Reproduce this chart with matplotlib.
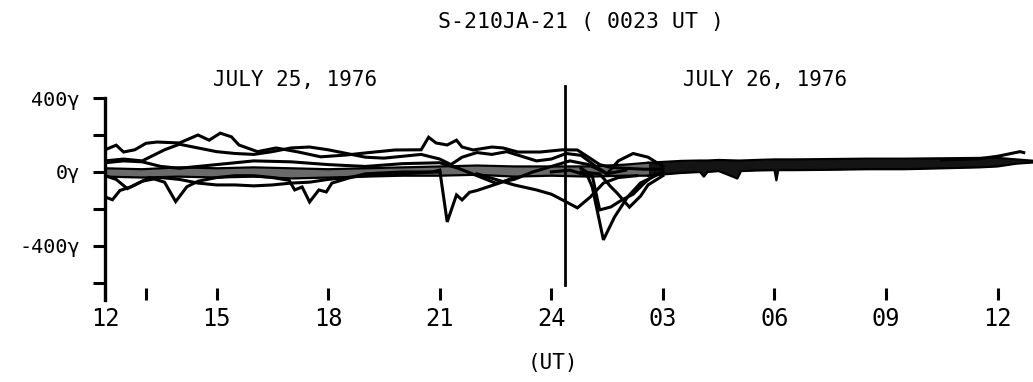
import matplotlib

matplotlib.use('Agg')
import matplotlib.pyplot as plt

# --- данные (часы UT от 12 UT 25 июля, гаммы) ---
h1 = [12.0, 12.3, 12.5, 12.8, 13.1, 13.4, 14.0, 14.5, 14.8, 15.1, 15.4, 15.6, 16.1, 16.6, 17.2, 17.8,
      18.5, 19.0, 19.8, 20.5, 20.7, 20.9, 21.2, 21.45, 21.6, 21.9, 22.4, 22.7, 23.1, 23.7, 24.3, 24.7,
      25.0, 25.3, 25.6, 26.0, 26.5, 27.0]
v1 = [120, 145, 108, 120, 155, 162, 157, 200, 172, 210, 190, 146, 110, 130, 108, 82,
      92, 103, 119, 120, 188, 157, 146, 172, 135, 119, 135, 130, 108, 108, 120, 119,
      80, 40, 25, 20, 15, 15]

h2 = [12.0, 12.5, 13.0, 13.3, 13.6, 14.0, 14.5, 15.0, 15.5, 16.0, 16.5, 17.0, 17.5, 18.0, 18.5, 19.0,
      19.5, 20.0, 20.5, 21.0, 21.3, 21.6, 22.0, 22.4, 22.8, 23.2, 23.6, 24.0, 24.4, 24.8, 25.2, 25.5,
      25.8, 26.2, 26.6, 27.0]
v2 = [60, 70, 60, 90, 120, 150, 130, 110, 100, 95, 110, 130, 135, 120, 100, 80,
      75, 85, 95, 70, 40, 80, 105, 95, 110, 85, 60, 70, 100, 90, 30, -10,
      60, 100, 80, 30]

h3 = [12.0, 12.5, 13.0, 13.5, 14.0, 14.5, 15.0, 16.0, 17.0, 18.0, 19.0, 20.0, 21.0, 21.5, 22.0, 22.5,
      23.0, 23.5, 24.0, 24.5, 25.0, 25.5, 26.0]
v3 = [50, 60, 55, 30, 20, 30, 40, 60, 55, 40, 30, 45, 50, 20, -20, -60,
      -40, 0, 30, 60, 40, -10, 10]

h4 = [12.0, 12.3, 12.6, 12.9, 13.2, 13.6, 13.9, 14.2, 14.5, 15.0, 15.5, 16.0, 16.5, 16.95, 17.1, 17.3,
      17.5, 17.75, 17.95, 18.1, 18.6, 19.0, 20.0, 21.0]
v4 = [-20, -40, -90, -60, -30, -55, -160, -80, -50, -30, -20, -20, -30, -45, -97, -81,
      -162, -97, -108, -60, -30, -10, 0, 0]

h5 = [12.0, 12.2, 12.4, 12.7, 13.0, 13.5, 14.0, 14.5, 15.0, 15.5, 16.0, 16.5, 17.0, 17.5, 18.0, 19.0,
      20.0, 20.8, 21.0, 21.2, 21.45, 21.6, 21.8, 22.0, 22.3, 22.6, 23.0]
v5 = [-135, -150, -100, -80, -50, -30, -40, -60, -70, -70, -75, -70, -60, -55, -40, -20,
      -10, 0, 10, -270, -124, -151, -110, -100, -80, -60, -30]

h6 = [22.0, 22.5, 23.0, 23.6, 24.0, 24.3, 24.7, 25.05, 25.4, 25.8, 26.3]
v6 = [-10, -40, -70, -97, -120, -151, -194, -135, -60, -30, -20]

h7 = [24.0, 24.5, 24.97, 25.1, 25.4, 25.7, 26.05, 26.4, 26.7, 27.0]
v7 = [0, 10, -20, -81, -367, -243, -135, -59, -30, 0]

h8 = [24.8, 25.1, 25.3, 25.6, 25.9, 26.2, 26.5, 26.8]
v8 = [20, -20, -205, -189, -151, -120, -60, -10]

h9 = [24.8, 25.3, 25.6, 25.75, 26.1, 26.4, 26.6, 27.0]
v9 = [0, -10, -80, -110, -190, -130, -70, -20]

h10 = [34.5, 35.0, 35.5, 36.0, 36.6, 36.7]
v10 = [65, 68, 72, 85, 110, 105]

traces = [(h1, v1), (h2, v2), (h3, v3), (h4, v4), (h5, v5),
          (h6, v6), (h7, v7), (h8, v8), (h9, v9), (h10, v10)]

# плотная полоса около нуля (25 июля)
band_h = [12.0, 13.0, 14.0, 15.0, 16.0, 17.0, 18.0, 19.0, 20.0, 21.0, 22.0, 23.0, 24.0, 25.0, 26.0, 26.6]
band_hi = [20, 15, 25, 20, 25, 20, 15, 20, 25, 30, 35, 30, 30, 30, 40, 50]
band_lo = [-25, -30, -25, -30, -25, -35, -30, -25, -20, -20, -15, -25, -20, -25, -20, -20]

# плотная полоса 26 июля
band2_h = [26.6, 27.5, 28.0, 28.1, 28.2, 28.5, 29.0, 29.1, 29.5, 30.0, 30.05, 30.1, 30.5, 31.5,
           32.5, 33.5, 34.5, 35.5, 36.0, 36.5, 37.0]
band2_hi = [50, 60, 62, 62, 62, 65, 62, 62, 65, 68, 68, 68, 68, 70,
            72, 72, 74, 76, 76, 68, 60]
band2_lo = [-20, -5, 0, -25, 0, 5, -35, 5, 8, 10, -45, 10, 10, 12,
            15, 15, 20, 25, 30, 45, 52]

event_h = 24.38  # 00:23 UT
x_ticks = [12, 15, 18, 21, 24, 27, 30, 33, 36]
x_labels = ['12', '15', '18', '21', '24', '03', '06', '09', '12']
y_ticks = [400, 200, 0, -200, -400, -600]
y_labels = ['400γ', '', '0γ', '', '-400γ', '']

plt.rcParams['font.family'] = ['DejaVu Sans Mono', 'DejaVu Sans']

fig = plt.figure(figsize=(10.33, 3.82), dpi=100)
ax = fig.add_axes([105 / 1033, 1 - 300 / 382, 928 / 1033, 202 / 382])

ax.fill_between(band_h, band_lo, band_hi, color='#6a6a6a', lw=0)
ax.plot(band_h, band_hi, color='black', lw=1.6)
ax.plot(band_h, band_lo, color='black', lw=1.6)
ax.fill_between(band2_h, band2_lo, band2_hi, color='#141414', lw=0)
ax.plot(band2_h, band2_hi, color='black', lw=1.6)
ax.plot(band2_h, band2_lo, color='black', lw=1.6)

for hh, vv in traces:
    ax.plot(hh, vv, color='black', lw=2.2, solid_joinstyle='miter')

# момент события
ax.plot([event_h, event_h], [465, -610], color='black', lw=2.0, clip_on=False)

ax.set_xlim(12, 36.95)
ax.set_ylim(-692, 400)

for s in ['top', 'right', 'bottom']:
    ax.spines[s].set_visible(False)
ax.spines['left'].set_linewidth(2.4)

ax.set_yticks(y_ticks)
ax.set_yticklabels(y_labels)
ax.tick_params(axis='y', direction='out', length=9, width=2.2, pad=9, labelsize=14.5)

ax.set_xticks(x_ticks)
ax.set_xticklabels(x_labels)
ax.set_xticks([13.1], minor=True)
ax.tick_params(axis='x', which='both', direction='in', length=9, width=2.2, pad=5, labelsize=17)

fig.text(581 / 1033, 1 - 22 / 382, 'S-210JA-21 ( 0023 UT )', ha='center', va='center', fontsize=15.5)
fig.text(295 / 1033, 1 - 80 / 382, 'JULY 25, 1976', ha='center', va='center', fontsize=15)
fig.text(765 / 1033, 1 - 80 / 382, 'JULY 26, 1976', ha='center', va='center', fontsize=15)
fig.text(553 / 1033, 1 - 363 / 382, '(UT)', ha='center', va='center', fontsize=15)

fig.savefig('out.png', dpi=100)
plt.close('all')
